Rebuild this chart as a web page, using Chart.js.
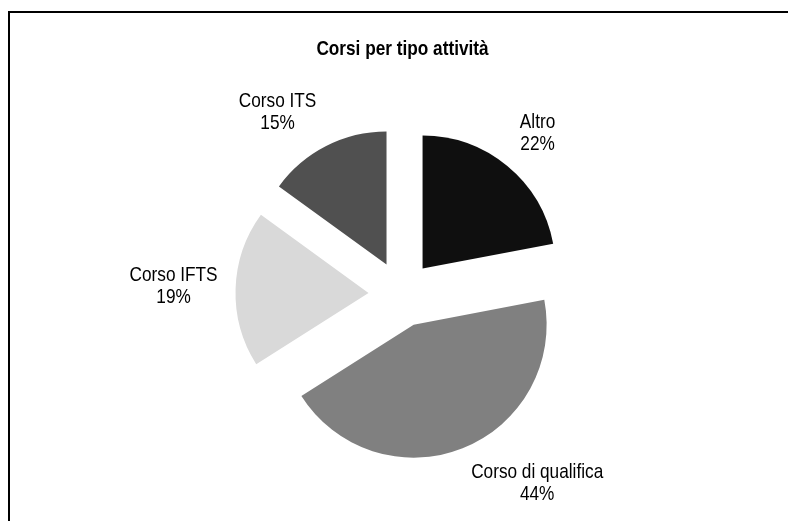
<!DOCTYPE html>
<html>
<head>
<meta charset="utf-8">
<script src="https://cdn.jsdelivr.net/npm/chart.js@4"></script>
<style>
  html, body { margin: 0; padding: 0; background: #ffffff; }
  #wrap { width: 788px; height: 521px; position: relative; }
</style>
</head>
<body>
<div id="wrap"><canvas id="c" width="788" height="521"></canvas></div>
<script>
// ---- data ----
const chartTitle = 'Corsi per tipo attività';
const categories = ['Altro', 'Corso di qualifica', 'Corso IFTS', 'Corso ITS'];
const values = [22, 44, 19, 15];
const sliceColors = ['#0f0f0f', '#808080', '#d9d9d9', '#505050'];

// ---- style constants ----
const EXPLODE = 33;     // px each slice is pulled out
const LABEL_GAP = 15;   // px between slice edge and label box
const LABEL_PAD = 3;
const LINE_H = 22;
const FONT_SIZE = 21;

function pickFont(ctx) {
  ctx.font = FONT_SIZE + 'px monospace';
  const mono = ctx.measureText('Corso di qualifica').width;
  ctx.font = FONT_SIZE + "px 'Liberation Sans Narrow', monospace";
  const narrow = ctx.measureText('Corso di qualifica').width;
  if (Math.abs(mono - narrow) > 0.5) return { family: "'Liberation Sans Narrow'", sx: 1 };
  return { family: "'Liberation Sans', Arial, sans-serif", sx: 0.82 };
}

const explodePlugin = {
  id: 'explode',
  afterDatasetsUpdate(chart) {
    const meta = chart.getDatasetMeta(0);
    meta.data.forEach(arc => {
      const mid = (arc.startAngle + arc.endAngle) / 2;
      arc.x += Math.cos(mid) * EXPLODE;
      arc.y += Math.sin(mid) * EXPLODE;
    });
  }
};

const decorPlugin = {
  id: 'decor',
  afterDraw(chart) {
    const ctx = chart.ctx;
    const f = pickFont(ctx);
    ctx.save();
    // frame
    ctx.fillStyle = '#000';
    ctx.fillRect(8, 11, 2, 510);
    ctx.fillRect(8, 11, 780, 2);

    // title
    ctx.save();
    ctx.translate(402.5, 49);
    ctx.scale(f.sx, 1);
    ctx.font = 'bold ' + FONT_SIZE + 'px ' + f.family;
    ctx.textAlign = 'center';
    ctx.textBaseline = 'middle';
    ctx.fillStyle = '#000';
    ctx.fillText(chartTitle, 0, 0);
    ctx.restore();

    // labels
    const meta = chart.getDatasetMeta(0);
    const total = values.reduce((a, b) => a + b, 0);
    ctx.font = FONT_SIZE + 'px ' + f.family;
    meta.data.forEach((arc, i) => {
      const mid = (arc.startAngle + arc.endAngle) / 2;
      const cx = Math.cos(mid), cy = Math.sin(mid);
      const lines = [categories[i], Math.round(values[i] / total * 100) + '%'];
      const w = Math.max(...lines.map(t => ctx.measureText(t).width)) * f.sx + 2 * LABEL_PAD;
      const h = lines.length * FONT_SIZE;
      const R = arc.outerRadius + LABEL_GAP;
      const px = arc.x + R * cx, py = arc.y + R * cy;
      const sxn = Math.max(-1, Math.min(1, 3 * cx));
      const syn = Math.max(-1, Math.min(1, 3 * cy));
      const bx = px + sxn * w / 2, by = py + syn * h / 2;
      lines.forEach((t, k) => {
        ctx.save();
        ctx.translate(bx, by + (k - (lines.length - 1) / 2) * LINE_H);
        ctx.scale(f.sx, 1);
        ctx.textAlign = 'center';
        ctx.textBaseline = 'middle';
        ctx.fillStyle = '#000';
        ctx.fillText(t, 0, 0);
        ctx.restore();
      });
    });
    ctx.restore();
  }
};

new Chart(document.getElementById('c'), {
  type: 'pie',
  data: {
    labels: categories,
    datasets: [{
      data: values,
      backgroundColor: sliceColors,
      borderWidth: 0
    }]
  },
  options: {
    responsive: false,
    animation: false,
    events: [],
    layout: { padding: { top: 161, bottom: 94, left: 150, right: 135 } },
    plugins: {
      legend: { display: false },
      tooltip: { enabled: false },
      title: { display: false }
    }
  },
  plugins: [explodePlugin, decorPlugin]
});
</script>
</body>
</html>
